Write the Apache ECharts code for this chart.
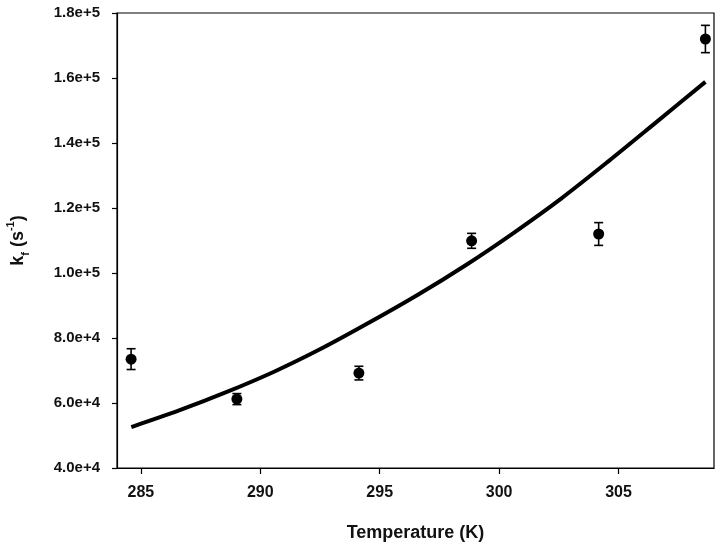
<!DOCTYPE html>
<html>
<head>
<meta charset="UTF-8">
<title>kf vs Temperature</title>
<script src="https://cdn.jsdelivr.net/npm/echarts@6/dist/echarts.min.js"></script>
<style>
	body { margin: 0; background: #fff; }
	#chart { width: 720px; height: 548px; }
</style>
</head>
<body>
<div id="chart"></div>
<script>
	// tick labels on the temperature axis
	var tempTicks = [285, 290, 295, 300, 305];
	// measured points (K, s^-1) and their error bars
	var obsTemp = [284.59, 289.02, 294.13, 298.85, 304.17, 308.64];
	var obsKf = [73500, 61200, 69200, 109900, 112000, 172000];
	var obsErr = [3200, 1700, 2100, 2300, 3500, 4200];
	// fitted curve
	var fitTemp = [284.6, 286.6, 288.6, 290.6, 292.6, 294.6, 296.6, 298.6, 300.6, 302.6, 304.6, 306.6, 308.64];
	var fitKf = [52600, 57700, 63400, 69700, 76900, 84900, 93300, 102400, 112300, 122900, 134500, 146500, 158800];

	var font = "'Liberation Sans', Arial, sans-serif";

	var pts = [], bars = [], fit = [];
	for (var i = 0; i < obsTemp.length; i++) {
		pts.push([obsTemp[i], obsKf[i]]);
		bars.push([obsTemp[i], obsKf[i] - obsErr[i], obsKf[i] + obsErr[i]]);
	}
	for (var j = 0; j < fitTemp.length; j++) {
		fit.push([fitTemp[j], fitKf[j]]);
	}

	var chart = echarts.init(document.getElementById('chart'));
	chart.setOption({
		animation: false,
		grid: {
			left: 117, right: 6, top: 13, bottom: 80,
			outerBoundsMode: 'none',
			show: true, borderColor: '#000', borderWidth: 1.2
		},
		xAxis: {
			type: 'value',
			min: 284,
			max: 309,
			name: 'Temperature (K)',
			nameLocation: 'middle',
			nameGap: 56,
			nameTextStyle: { fontFamily: font, fontSize: 18, fontWeight: 'bold', color: '#111' },
			splitLine: { show: false },
			axisLine: { lineStyle: { color: '#000', width: 1.2 } },
			axisTick: { customValues: tempTicks, length: 6, lineStyle: { color: '#000', width: 1.2 } },
			axisLabel: {
				customValues: tempTicks, margin: 17,
				fontFamily: font, fontSize: 16, fontWeight: 'bold', color: '#111'
			}
		},
		yAxis: {
			type: 'value',
			min: 40000,
			max: 180000,
			interval: 20000,
			name: '{k|k}{f|f}{k| (s}{s|-1}{k|)}',
			nameLocation: 'middle',
			nameGap: 86,
			nameTextStyle: {
				rich: {
					k: { fontFamily: font, fontSize: 18, fontWeight: 'bold', color: '#111', lineHeight: 26 },
					f: { fontFamily: font, fontSize: 11, fontWeight: 'bold', color: '#111', lineHeight: 26, verticalAlign: 'bottom' },
					s: { fontFamily: font, fontSize: 11, fontWeight: 'bold', color: '#111', lineHeight: 26, verticalAlign: 'top' }
				}
			},
			splitLine: { show: false },
			axisLine: { show: true, lineStyle: { color: '#000', width: 1.2 } },
			axisTick: { show: true, length: 5, lineStyle: { color: '#000', width: 1.2 } },
			axisLabel: {
				margin: 17,
				fontFamily: font, fontSize: 15, fontWeight: 'bold', color: '#111',
				formatter: function (v) { return v.toExponential(1); }
			}
		},
		series: [
			{
				type: 'line',
				data: fit,
				smooth: 0.3,
				showSymbol: false,
				lineStyle: { color: '#000', width: 4 },
				z: 2
			},
			{
				type: 'custom',
				data: bars,
				renderItem: function (params, api) {
					var x = api.value(0);
					var top = api.coord([x, api.value(2)]);
					var bot = api.coord([x, api.value(1)]);
					var w = 4.5;
					var st = { stroke: '#000', lineWidth: 1.6 };
					return {
						type: 'group',
						children: [
							{ type: 'line', shape: { x1: top[0], y1: top[1], x2: bot[0], y2: bot[1] }, style: st },
							{ type: 'line', shape: { x1: top[0] - w, y1: top[1], x2: top[0] + w, y2: top[1] }, style: st },
							{ type: 'line', shape: { x1: bot[0] - w, y1: bot[1], x2: bot[0] + w, y2: bot[1] }, style: st }
						]
					};
				},
				z: 3
			},
			{
				type: 'scatter',
				data: pts,
				symbol: 'circle',
				symbolSize: 11,
				itemStyle: { color: '#000', opacity: 1 },
				z: 4
			}
		]
	});
</script>
</body>
</html>
